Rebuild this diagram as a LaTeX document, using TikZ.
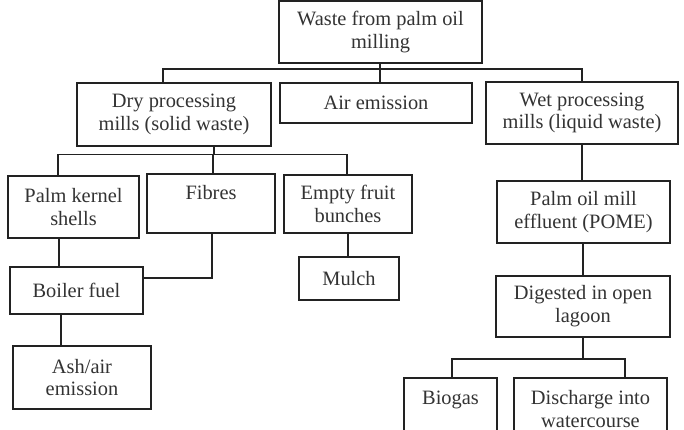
\documentclass[tikz,border=0pt]{standalone}
\IfFileExists{pplr8t.tfm}{%
  \usepackage[T1]{fontenc}%
  \renewcommand\rmdefault{ppl}%
  \newcommand\boxfont{\fontsize{18.3}{22.5}\selectfont}%
}{%
  \usepackage{fontspec}%
  \setmainfont{Liberation Serif}%
  \newcommand\boxfont{\fontsize{20.4}{22.8}\selectfont}%
}
\begin{document}
\begin{tikzpicture}[x=1pt,y=-1pt,
  box/.style={draw=linec, line width=1.5pt, inner sep=0pt, align=center,
    text=textc, font=\boxfont},
  link/.style={draw=linec, line width=1.5pt}]
\definecolor{linec}{HTML}{222222}
\definecolor{textc}{HTML}{333333}
\useasboundingbox (0,0) rectangle (684,430);
\clip (0,0) rectangle (684,430);
\fill[white] (0,0) rectangle (684,430);
% boxes
\node[box, minimum width=203pt, minimum height=62pt] (top) at (380.5,32) {Waste from palm oil\\milling};
\node[box, minimum width=194pt, minimum height=63pt] (dry) at (174,114.5) {Dry processing\\mills (solid waste)};
\node[box, minimum width=192pt, minimum height=40pt] (air) at (376,103) {Air emission};
\node[box, minimum width=192pt, minimum height=62pt] (wet) at (582,113) {Wet processing\\mills (liquid waste)};
\node[box, minimum width=131pt, minimum height=62pt] (pks) at (73.5,207) {Palm kernel\\shells};
\node[box, minimum width=128pt, minimum height=59pt] (fib) at (211,203.5) {Fibres\\\mbox{}};
\node[box, minimum width=128pt, minimum height=58pt] (efb) at (348,204) {Empty fruit\\bunches};
\node[box, minimum width=133pt, minimum height=47pt] (boil) at (76.5,290.5) {Boiler fuel};
\node[box, minimum width=138pt, minimum height=63pt] (ash) at (82,377.5) {Ash/air\\emission};
\node[box, minimum width=100pt, minimum height=43pt] (mulch) at (349,278.5) {Mulch};
\node[box, minimum width=173pt, minimum height=62pt] (pome) at (583.5,212) {Palm oil mill\\effluent (POME)};
\node[box, minimum width=174pt, minimum height=61pt] (dig) at (583,306.5) {Digested in open\\lagoon};
\node[box, minimum width=93pt, minimum height=62pt] (bio) at (450.5,409) {Biogas\\\mbox{}};
\node[box, minimum width=153pt, minimum height=62pt] (dis) at (590.5,409) {Discharge into\\watercourse};
% connectors
\coordinate (j1) at (380,69);
\draw[link] ([xshift=-0.5pt]top.south) -- ([xshift=-0.5pt]top.south |- air.north);
\draw[link] ([xshift=-11pt]dry.north) |- (j1) -| (wet.north);
\coordinate (j2) at (214,154.5);
\draw[link] ([xshift=40pt]dry.south) -- (j2);
\draw[link] ([xshift=-15.5pt]pks.north) |- (j2) -| ([xshift=-1pt]efb.north);
\draw[link] ([xshift=2pt]fib.north) -- ([xshift=2pt]fib.north |- j2);
\draw[link] ([xshift=-14.5pt]pks.south) -- ([xshift=-14.5pt]pks.south |- boil.north);
\draw[link] ([xshift=1pt]fib.south) |- ([yshift=12.5pt]boil.east);
\draw[link] ([xshift=-15.5pt]boil.south) -- ([xshift=-15.5pt]boil.south |- ash.north);
\draw[link] (efb.south) -- (efb.south |- mulch.north);
\draw[link] (wet.south) -- (wet.south |- pome.north);
\draw[link] (pome.south -| dig.north) -- (dig.north);
\coordinate (j3) at (583,359);
\draw[link] (dig.south) -- (j3);
\draw[link] ([xshift=1.5pt]bio.north) |- (j3) -| ([xshift=34.5pt]dis.north);
\end{tikzpicture}
\end{document}
